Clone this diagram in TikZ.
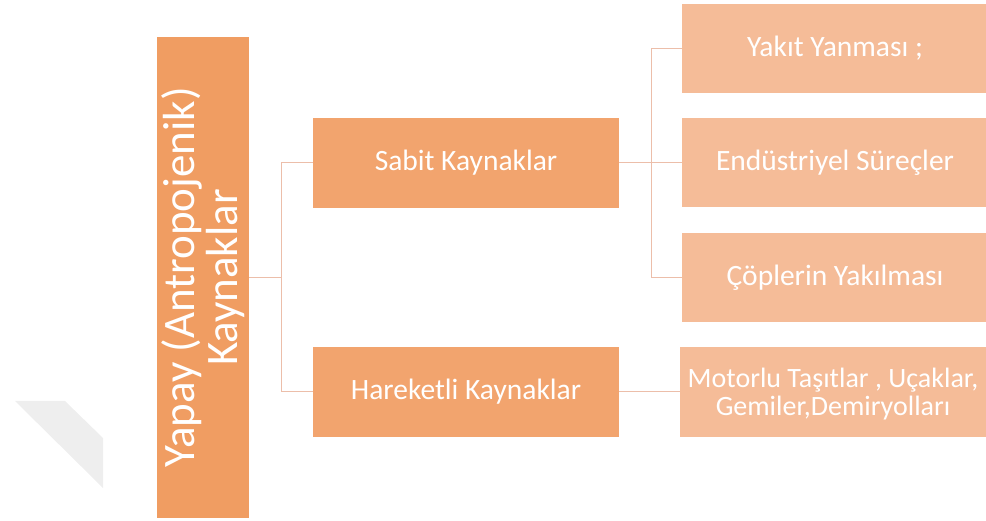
\documentclass[tikz,border=0pt]{standalone}
\usepackage{fontspec}
\setmainfont{Carlito}
\definecolor{rootc}{RGB}{240,157,98}
\definecolor{midc}{RGB}{242,164,110}
\definecolor{leafc}{RGB}{245,188,152}
\definecolor{linkc}{RGB}{236,190,170}
\tikzset{
  rootbox/.style={fill=rootc,text=white,minimum width=481pt,minimum height=92pt,
    rotate=90,align=center,font=\fontsize{45}{43}\selectfont,inner sep=0pt},
  midbox/.style={fill=midc,text=white,minimum width=306pt,minimum height=90pt,
    font=\fontsize{29.5}{28}\selectfont,inner sep=0pt},
  leafbox/.style={fill=leafc,text=white,minimum width=306pt,minimum height=89pt,
    align=center,font=\fontsize{29.5}{28}\selectfont,inner sep=0pt},
  link/.style={draw=linkc,line width=1pt}
}
\begin{document}
\begin{tikzpicture}[x=1pt,y=1pt]
      \useasboundingbox (0,0) rectangle (986,520);
      \fill[gray!13] (15,119) -- (65,119) -- (103,82) -- (103,32) -- cycle;
      \draw
        (203,242.5) node[rootbox] (root){Yapay (Antropojenik)\\Kaynaklar}
        (466,357) node[midbox] (sabit){Sabit Kaynaklar}
        (466,128) node[midbox] (hareketli){Hareketli Kaynaklar}
        (835,471.5) node[leafbox] (yakit){Yakıt Yanması ;}
        (835,357) node[leafbox] (endustri){Endüstriyel Süreçler}
        (835,242) node[leafbox] (cop){Çöplerin Yakılması}
        (833,128) node[leafbox,font=\fontsize{28}{28}\selectfont,text depth=0pt] (motor){Motorlu Taşıtlar , Uçaklar,\\Gemiler,Demiryolları};
      \begin{scope}[link]
        \draw (root.south) -- ++(32,0) coordinate (rj);
        \draw (rj) |- (sabit.west);
        \draw (rj) |- (hareketli.west);
        \draw (sabit.east) -- ++(32,0) coordinate (sj);
        \draw (sj) |- (yakit.west);
        \draw (sj) -- (endustri.west);
        \draw (sj) |- (cop.west);
        \draw (hareketli.east) -- (motor.west);
      \end{scope}
    \end{tikzpicture}
\end{document}
